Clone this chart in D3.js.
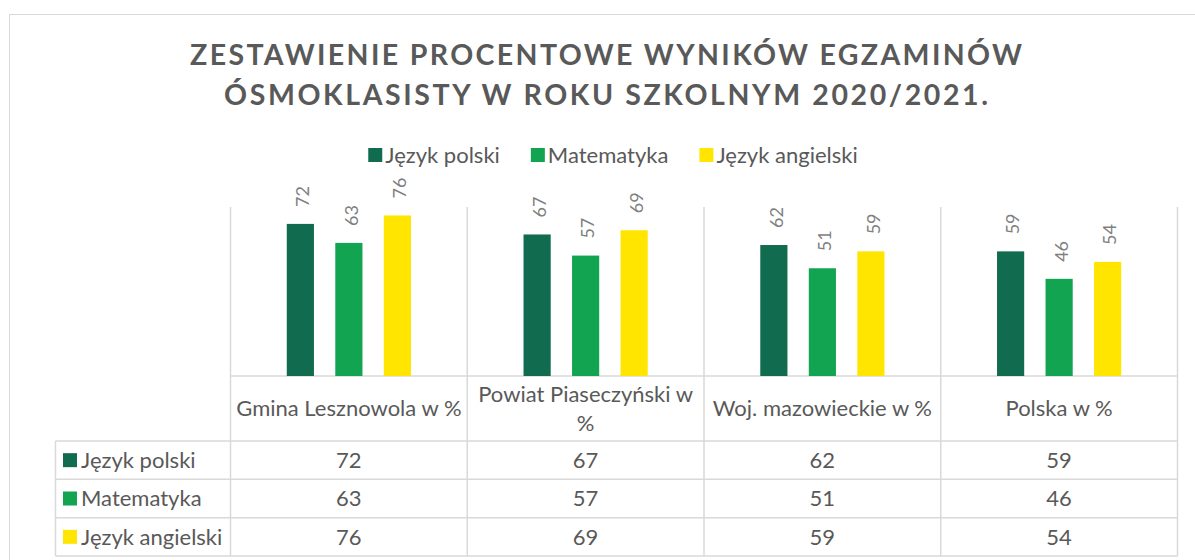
<!DOCTYPE html>
<html>
<head>
<meta charset="utf-8">
<script src="https://cdn.jsdelivr.net/npm/d3@7"></script>
<style>
  body { margin: 0; background: #fff; }
  text { font-family: Lato, "Open Sans", sans-serif; }
</style>
</head>
<body>
<div id="chart-area"></div>
<script>
// data
const titleLines = ["ZESTAWIENIE PROCENTOWE WYNIKÓW EGZAMINÓW", "ÓSMOKLASISTY W ROKU SZKOLNYM 2020/2021."]
const categories = ["Gmina Lesznowola w %", "Powiat Piaseczyński w %", "Woj. mazowieckie w %", "Polska w %"]
const seriesNames = ["Język polski", "Matematyka", "Język angielski"]
const seriesColors = ["#116b4f", "#13a452", "#ffe500"]
const jezykPolski = [72, 67, 62, 59]
const matematyka = [63, 57, 51, 46]
const jezykAngielski = [76, 69, 59, 54]

const WIDTH = 1195
const HEIGHT = 560
const GRID = "#d9d9d9"
const TEXT = "#595959"

const series = seriesNames.map((name, i) => ({
  name: name,
  color: seriesColors[i],
  values: [jezykPolski, matematyka, jezykAngielski][i]
}))

const svg = d3.select("#chart-area").append("svg")
  .attr("width", WIDTH)
  .attr("height", HEIGHT)

// chart frame
svg.append("rect")
  .attr("x", 9.5).attr("y", 14.5)
  .attr("width", 1193).attr("height", 600)
  .attr("fill", "#fff")
  .attr("stroke", GRID)

// Title
svg.selectAll("text.title")
  .data(titleLines)
  .join("text")
  .attr("class", "title")
  .attr("x", 606)
  .attr("y", (d, i) => 65 + i * 40)
  .attr("text-anchor", "middle")
  .attr("textLength", (d, i) => [832, 764][i])
  .attr("lengthAdjust", "spacing")
  .style("font-size", "28.5px")
  .style("font-weight", "bold")
  .attr("fill", TEXT)
  .text(d => d)

// Legend
const legend = svg.append("g")
const legendItems = legend.selectAll("g")
  .data(series)
  .join("g")
legendItems.append("rect")
  .attr("width", 14).attr("height", 14)
  .attr("y", 148)
  .attr("fill", d => d.color)
legendItems.append("text")
  .attr("x", 17)
  .attr("y", 155)
  .attr("dy", "0.35em")
  .style("font-size", "22px")
  .attr("fill", TEXT)
  .text(d => d.name)
let lx = 0
legendItems.each(function () {
  d3.select(this).attr("transform", `translate(${lx},0)`)
  lx += 17 + d3.select(this).select("text").node().getComputedTextLength() + 31
})
lx -= 31
legend.attr("transform", `translate(${613 - lx / 2},0)`)

// scales
const x0 = d3.scaleBand()
  .domain(categories)
  .range([230.5, 1177.5])

const x1 = d3.scaleBand()
  .domain(seriesNames)
  .range([0, x0.bandwidth()])
  .paddingInner(0.44)
  .paddingOuter(1.16)

const y = d3.scaleLinear()
  .domain([0, 80])
  .range([376, 207])

const rowY = d3.scaleBand()
  .domain(seriesNames)
  .range([441, 556])

const TABLE_LEFT = 55.5
const TABLE_BOTTOM = 556

// vertical grid lines (category borders)
const bounds = categories.map(c => x0(c)).concat([x0.range()[1]])
svg.append("g").selectAll("line")
  .data(bounds)
  .join("line")
  .attr("x1", d => d).attr("x2", d => d)
  .attr("y1", y.range()[1]).attr("y2", TABLE_BOTTOM)
  .attr("stroke", GRID).attr("stroke-width", 1.5)

// axis line / header top
svg.append("line")
  .attr("x1", x0.range()[0]).attr("x2", x0.range()[1])
  .attr("y1", y(0)).attr("y2", y(0))
  .attr("stroke", GRID).attr("stroke-width", 1.5)

// table horizontal lines
svg.append("g").selectAll("line")
  .data(seriesNames.map(s => rowY(s)).concat([TABLE_BOTTOM]))
  .join("line")
  .attr("x1", TABLE_LEFT).attr("x2", x0.range()[1])
  .attr("y1", d => d).attr("y2", d => d)
  .attr("stroke", GRID).attr("stroke-width", 1.5)

svg.append("line")
  .attr("x1", TABLE_LEFT).attr("x2", TABLE_LEFT)
  .attr("y1", rowY.range()[0]).attr("y2", TABLE_BOTTOM)
  .attr("stroke", GRID).attr("stroke-width", 1.5)

// bars
const groups = svg.append("g").selectAll("g")
  .data(series)
  .join("g")
  .attr("fill", d => d.color)

groups.selectAll("rect")
  .data(s => s.values.map((v, i) => ({ name: s.name, cat: categories[i], value: v })))
  .join("rect")
  .attr("x", d => x0(d.cat) + x1(d.name))
  .attr("y", d => y(d.value))
  .attr("width", x1.bandwidth())
  .attr("height", d => y(0) - y(d.value))

// rotated data labels
groups.selectAll("text")
  .data(s => s.values.map((v, i) => ({ name: s.name, cat: categories[i], value: v })))
  .join("text")
  .attr("transform", d => `translate(${x0(d.cat) + x1(d.name) + x1.bandwidth() / 2 + 2.5}, ${y(d.value) - 17}) rotate(-90)`)
  .attr("dy", "0.35em")
  .attr("text-anchor", "start")
  .style("font-size", "18px")
  .attr("fill", "#7f7f7f")
  .text(d => d.value)

// header (category labels), wrapped
const header = svg.append("g").selectAll("text")
  .data(categories)
  .join("text")
  .attr("x", d => x0(d) + x0.bandwidth() / 2)
  .attr("text-anchor", "middle")
  .style("font-size", "22px")
  .attr("fill", TEXT)

header.each(function (d) {
  const t = d3.select(this)
  const words = d.split(" ")
  const lines = []
  let line = []
  const probe = t.append("tspan")
  words.forEach(w => {
    probe.text(line.concat([w]).join(" "))
    if (line.length && probe.node().getComputedTextLength() > x0.bandwidth() - 6) {
      lines.push(line.join(" "))
      line = [w]
    } else {
      line.push(w)
    }
  })
  lines.push(line.join(" "))
  probe.remove()
  const lh = 29.3
  const mid = (y(0) + rowY.range()[0]) / 2
  lines.forEach((l, i) => {
    t.append("tspan")
      .attr("x", x0(d) + x0.bandwidth() / 2)
      .attr("y", mid + (i - (lines.length - 1) / 2) * lh)
      .attr("dy", "0.35em")
      .text(l)
  })
})

// table rows
const rows = svg.append("g").selectAll("g")
  .data(series)
  .join("g")
  .attr("transform", d => `translate(0, ${rowY(d.name) + rowY.bandwidth() / 2})`)

rows.append("rect")
  .attr("x", 63).attr("y", -7)
  .attr("width", 14).attr("height", 14)
  .attr("fill", d => d.color)

rows.append("text")
  .attr("x", 81)
  .attr("dy", "0.35em")
  .style("font-size", "22px")
  .attr("fill", TEXT)
  .text(d => d.name)

rows.selectAll("text.val")
  .data(d => d.values.map((v, i) => ({ cat: categories[i], value: v })))
  .join("text")
  .attr("class", "val")
  .attr("x", d => x0(d.cat) + x0.bandwidth() / 2)
  .attr("dy", "0.35em")
  .attr("text-anchor", "middle")
  .style("font-size", "22px")
  .attr("fill", TEXT)
  .text(d => d.value)
</script>
</body>
</html>
